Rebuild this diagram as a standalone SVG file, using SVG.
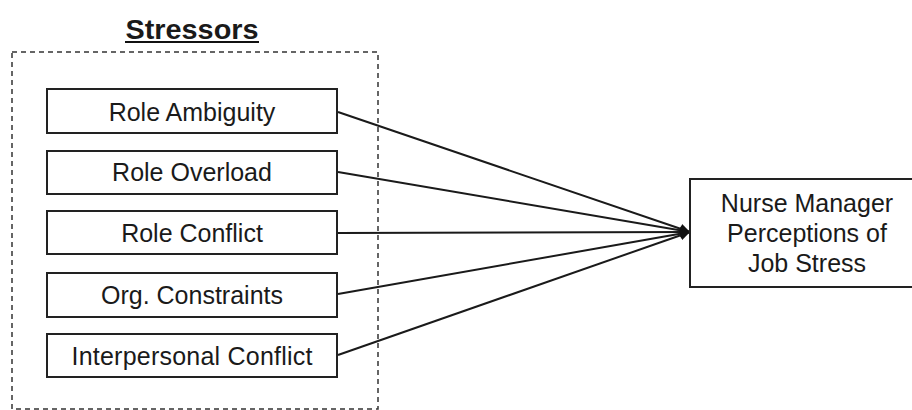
<svg xmlns="http://www.w3.org/2000/svg" width="912" height="410" viewBox="0 0 912 410">
<defs>
<style>
.box{fill:#fff;stroke:#222;stroke-width:2}
.t{font-family:"Liberation Sans",Arial,sans-serif;font-size:25px;fill:#1a1a1a;text-anchor:middle}
.c{stroke:#1a1a1a;stroke-width:2;fill:none;marker-end:url(#ah)}
</style>
<marker id="ah" viewBox="0 0 10 10" refX="10" refY="5" markerWidth="12" markerHeight="10" markerUnits="userSpaceOnUse" orient="auto">
<path d="M0,0 L10,5 L0,10 z" fill="#111"/>
</marker>
</defs>
<rect width="912" height="410" fill="#fff"/>
<g id="stressors-group">
<rect x="12" y="52" width="366" height="357" fill="none" stroke="#333" stroke-width="1.5" stroke-dasharray="5,4"/>
<text x="192" y="39" class="t" style="font-weight:bold;font-size:27px" textLength="133" lengthAdjust="spacingAndGlyphs">Stressors</text>
<line x1="125" y1="42" x2="259" y2="42" stroke="#111" stroke-width="2"/>
</g>
<g id="connectors">
<line class="c" x1="338" y1="112" x2="690" y2="232"/>
<line class="c" x1="338" y1="172" x2="690" y2="232"/>
<line class="c" x1="338" y1="233" x2="690" y2="232"/>
<line class="c" x1="338" y1="294" x2="690" y2="232"/>
<line class="c" x1="338" y1="355" x2="690" y2="232"/>
</g>
<g id="role-ambiguity">
<rect class="box" x="47" y="89" width="290" height="44"/>
<text class="t" x="192" y="120.5">Role Ambiguity</text>
</g>
<g id="role-overload">
<rect class="box" x="47" y="151" width="290" height="43"/>
<text class="t" x="192" y="181">Role Overload</text>
</g>
<g id="role-conflict">
<rect class="box" x="47" y="211" width="290" height="43"/>
<text class="t" x="192" y="241.5">Role Conflict</text>
</g>
<g id="org-constraints">
<rect class="box" x="47" y="273" width="290" height="44"/>
<text class="t" x="192" y="303.5">Org. Constraints</text>
</g>
<g id="interpersonal-conflict">
<rect class="box" x="47" y="334" width="290" height="43"/>
<text class="t" x="192" y="365" textLength="241" lengthAdjust="spacing">Interpersonal Conflict</text>
</g>
<g id="job-stress">
<rect class="box" x="690" y="179" width="240" height="108"/>
<text class="t" x="807" y="212">Nurse Manager</text>
<text class="t" x="807" y="242">Perceptions of</text>
<text class="t" x="807" y="272">Job Stress</text>
</g>
</svg>
